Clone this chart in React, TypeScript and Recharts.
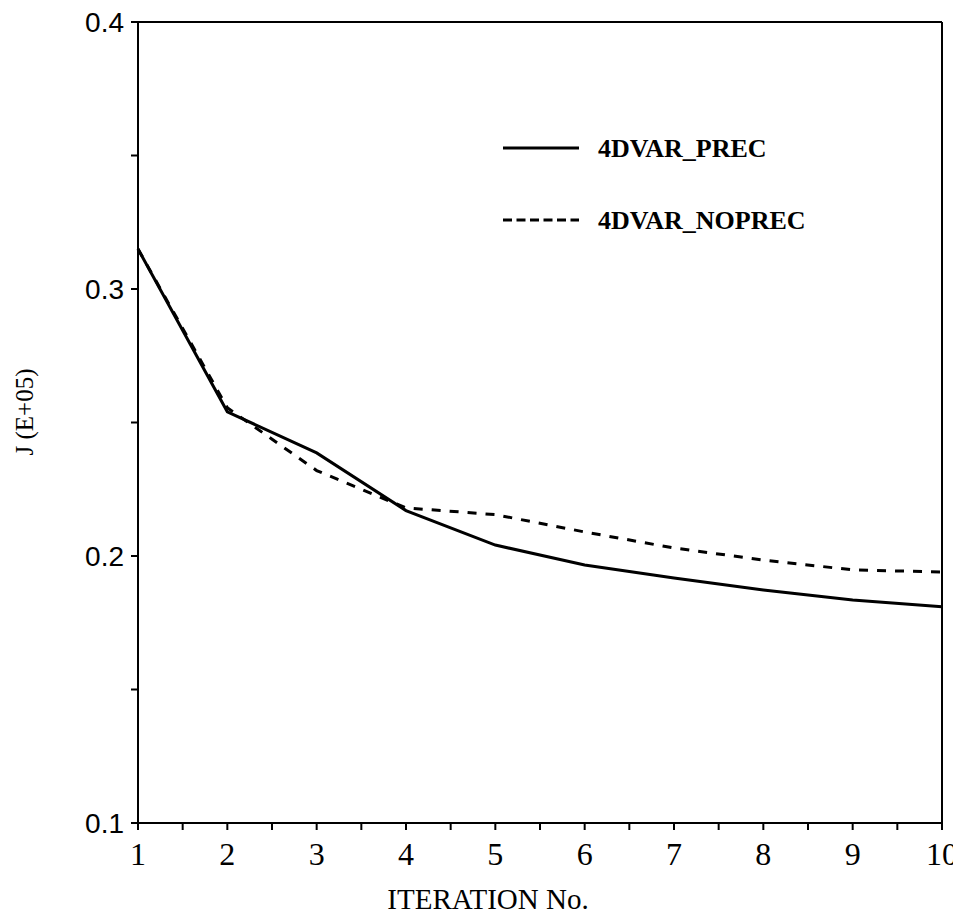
import { LineChart, Line, XAxis, YAxis, ReferenceLine, Label } from 'recharts';

const iterations = [1, 2, 3, 4, 5, 6, 7, 8, 9, 10];
const precValues = [0.315, 0.254, 0.2386, 0.217, 0.2041, 0.1966, 0.1918, 0.1873, 0.1835, 0.181];
const noprecValues = [0.315, 0.2555, 0.232, 0.218, 0.2155, 0.209, 0.203, 0.1985, 0.1948, 0.194];
const xTicks = [1, 1.5, 2, 2.5, 3, 3.5, 4, 4.5, 5, 5.5, 6, 6.5, 7, 7.5, 8, 8.5, 9, 9.5, 10];
const yTicks = [0.1, 0.15, 0.2, 0.25, 0.3, 0.35, 0.4];
const seriesNames = ['4DVAR_PREC', '4DVAR_NOPREC'];

const data = iterations.map((it, i) => ({
  iter: it,
  prec: precValues[i],
  noprec: noprecValues[i],
}));

const serif = '"Liberation Serif", "Times New Roman", serif';
const sans = '"Liberation Sans", Arial, sans-serif';

function LegendBox() {
  const dashes = [undefined, '9 4.5'];
  return (
    <svg width={400} height={120} style={{ position: 'absolute', top: 118, left: 493 }}>
      {seriesNames.map((name, i) => (
        <g key={name}>
          <line x1={2} x2={78} y1={22 + i * 72} y2={22 + i * 72} stroke="#000" strokeWidth={3} strokeDasharray={dashes[i]} />
          <text x={97} y={31 + i * 72} fontFamily={serif} fontWeight="bold" fontSize={26} fill="#000">
            {name}
          </text>
        </g>
      ))}
    </svg>
  );
}

function XTick(props: any) {
  const { x, payload } = props;
  if (!Number.isInteger(payload.value)) return null;
  return (
    <text x={x} y={857} textAnchor="middle" fontFamily={serif} fontSize={32} fill="#000">
      {payload.value}
    </text>
  );
}

function YTick(props: any) {
  const { y, payload } = props;
  if (Math.round(payload.value * 100) % 10 !== 0) return null;
  return (
    <text x={116} y={y + 10} textAnchor="end" fontFamily={sans} fontSize={28} fill="#000">
      {payload.value.toFixed(1)}
    </text>
  );
}

export default function App() {
  return (
    <div style={{ position: 'relative', width: 953, height: 909 }}>
      <LineChart width={953} height={909} data={data} margin={{ top: 14, right: 19, bottom: 0, left: 0 }} style={{ background: '#fff' }}>
        <XAxis
          dataKey="iter"
          type="number"
          domain={[1, 10]}
          ticks={xTicks}
          interval={0}
          tickSize={7}
          height={94}
          stroke="#000"
          strokeWidth={2}
          tick={<XTick />}
        >
          <Label
            content={(p: any) => {
              const vb = p.viewBox;
              return (
                <text x={vb.x + vb.width / 2 - 52} y={901} textAnchor="middle" fontFamily={serif} fontSize={29} fill="#000">
                  ITERATION No.
                </text>
              );
            }}
          />
        </XAxis>
        <YAxis
          type="number"
          domain={[0.1, 0.4]}
          ticks={yTicks}
          interval={0}
          tickSize={7}
          width={130}
          stroke="#000"
          strokeWidth={2}
          tick={<YTick />}
        >
          <Label
            content={() => (
              <text x={25} y={404} transform="rotate(-90, 25, 404)" textAnchor="middle" fontFamily={serif} fontSize={25} fill="#000">
                J (E+05)
              </text>
            )}
          />
        </YAxis>
        <ReferenceLine y={0.4} stroke="#000" strokeWidth={2} />
        <ReferenceLine x={10} stroke="#000" strokeWidth={2} />
        <Line dataKey="prec" name={seriesNames[0]} stroke="#000" strokeWidth={3} dot={false} isAnimationActive={false} />
        <Line dataKey="noprec" name={seriesNames[1]} stroke="#000" strokeWidth={3} strokeDasharray="9 9" dot={false} isAnimationActive={false} />
      </LineChart>
      <LegendBox />
    </div>
  );
}
